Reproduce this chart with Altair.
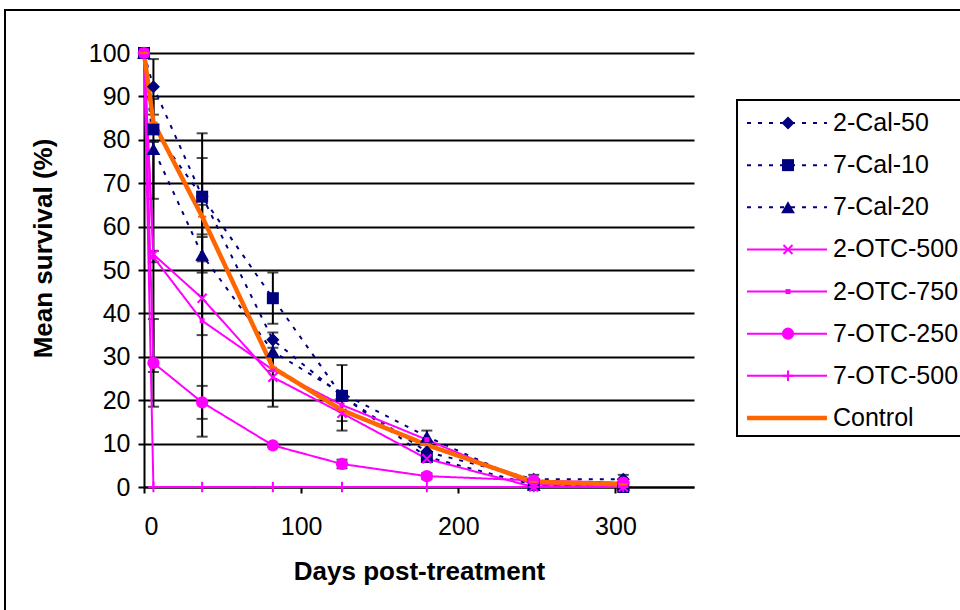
import altair as alt
import pandas as pd

# ---- data ----
days = [0, 6, 37, 82, 126, 180, 248, 305]
names = ["2-Cal-50", "7-Cal-10", "7-Cal-20", "2-OTC-500", "2-OTC-750",
         "7-OTC-250", "7-OTC-500", "Control"]
cal50_2 = [100, 92.2, 67.0, 33.9, 21.0, 8.1, 1.8, 1.8]
cal10_7 = [100, 82.4, 66.9, 43.5, 21.0, 6.9, 0.5, 0.0]
cal20_7 = [100, 77.9, 53.5, 31.2, 21.6, 11.6, 0.5, 0.5]
otc500_2 = [100, 53.6, 43.5, 25.3, 17.0, 6.5, 0.0, 0.0]
otc750_2 = [100, 53.0, 38.3, 27.0, 18.9, 10.9, 0.5, 0.5]
otc250_7 = [100, 28.6, 19.5, 9.6, 5.3, 2.5, 1.5, 1.0]
otc500_7 = [100, 0, 0, 0, 0, 0, 0, 0]
control = [100, 84.0, 62.3, 27.5, 17.7, 9.7, 1.2, 0.6]
series_values = [cal50_2, cal10_7, cal20_7, otc500_2, otc750_2, otc250_7, otc500_7, control]

# error bars (day, low, high)
err_day = [6, 6, 6, 6, 6, 37, 37, 37, 37, 37, 37, 82, 82, 82, 126, 126, 126, 180, 180, 248, 305]
err_low = [85.8, 66.4, 51.8, 26.5, 18.5, 52.3, 58.2, 49.4, 35.0, 15.7, 11.6, 37.6, 18.5, 26.8,
           15.2, 13.0, 4.3, 10.2, 1.8, 0.2, 0.2]
err_high = [98.6, 89.4, 54.4, 79.5, 38.7, 81.5, 75.8, 57.6, 52.0, 23.3, 65.0, 49.4, 32.1, 35.6,
            28.1, 21.0, 6.3, 13.0, 3.2, 2.8, 2.8]

# ---- styles ----
NAVY, MAG, ORG = "#000080", "#FF00FF", "#FF6600"
colors = [NAVY, NAVY, NAVY, MAG, MAG, MAG, MAG, ORG]
dashes = [[4, 7], [4, 7], [4, 7], [1, 0], [1, 0], [1, 0], [1, 0], [1, 0]]
widths = [2, 2, 2, 2, 2, 2, 2, 4.5]
XPATH = "M-1,-1L1,1M-1,1L1,-1"
PPATH = "M-1,0L1,0M0,-1L0,1"
DPATH = "M-1,0L1,0"
shapes = ["diamond", "square", "triangle-up", XPATH, "square", "circle", PPATH, DPATH]
sizes = [170, 144, 190, 81, 25, 150, 110, 70]
filled = [True, True, True, False, True, True, False, False]

rows = []
for n, vals, f, sz, w in zip(names, series_values, filled, sizes, widths):
    for d, v in zip(days, vals):
        rows.append({"series": n, "day": d, "value": v, "filled": f, "sz": sz, "w": w})
df = pd.DataFrame(rows)

err_df = pd.DataFrame({"day": err_day, "low": err_low, "high": err_high})
cap_df = pd.DataFrame({"day": err_day + err_day, "low": err_low + err_high})

leg_df = pd.DataFrame({"series": names, "filled": filled, "sz": sizes, "w": widths})

FONT = "Liberation Sans"
color_s = alt.Scale(domain=names, range=colors)
dash_s = alt.Scale(domain=names, range=dashes)
shape_s = alt.Scale(domain=names, range=shapes)

xs = alt.Scale(domain=[0, 350], nice=False)
ys = alt.Scale(domain=[0, 100], nice=False)
x_axis = alt.Axis(values=[0, 100, 200, 300], title="Days post-treatment",
                  labelPadding=21, titlePadding=19, grid=False)
y_axis = alt.Axis(values=list(range(0, 101, 10)), grid=True, title="Mean survival (%)",
                  labelPadding=8, titleX=-101, titleY=195, titleAngle=-90,
                  titleAlign="center", titleBaseline="middle")
X = alt.X("day:Q", scale=xs, axis=x_axis)


def Yf(field):
    return alt.Y(field + ":Q", scale=ys, axis=y_axis)


err_rules = alt.Chart(err_df).mark_rule(color="black", strokeWidth=2).encode(
    x=X, y=Yf("low"), y2="high:Q")
err_caps = alt.Chart(cap_df).mark_tick(color="black", thickness=2, size=11,
                                       orient="horizontal").encode(x=X, y=Yf("low"))

lines = alt.Chart(df).mark_line().encode(
    x=X, y=Yf("value"),
    color=alt.Color("series:N", scale=color_s, legend=None),
    strokeDash=alt.StrokeDash("series:N", scale=dash_s, legend=None),
    strokeWidth=alt.StrokeWidth("w:Q", scale=None),
    order=alt.Order("day:Q"),
)

pts_f = alt.Chart(df).mark_point(filled=True, opacity=1).encode(
    x=X, y=Yf("value"),
    color=alt.Color("series:N", scale=color_s, legend=None),
    shape=alt.Shape("series:N", scale=shape_s, legend=None),
    size=alt.Size("sz:Q", scale=None),
).transform_filter("datum.filled")

pts_s = alt.Chart(df).mark_point(filled=False, opacity=1, strokeWidth=2).encode(
    x=X, y=Yf("value"),
    color=alt.Color("series:N", scale=color_s, legend=None),
    shape=alt.Shape("series:N", scale=shape_s, legend=None),
    size=alt.Size("sz:Q", scale=None),
).transform_filter("!datum.filled")

main = alt.layer(err_rules, err_caps, lines, pts_f, pts_s)

# ---- legend & frame ----
one = pd.DataFrame({"a": [0]})
frame = alt.Chart(one).mark_rect(fill=None, stroke="black", strokeWidth=2).encode(
    x=alt.value(-139), x2=alt.value(840), y=alt.value(-43), y2=alt.value(600))
box = alt.Chart(one).mark_rect(fill="white", stroke="black", strokeWidth=2).encode(
    x=alt.value(593), x2=alt.value(840), y=alt.value(47), y2=alt.value(383))

leg_y = alt.Y("series:N", scale=alt.Scale(type="point", domain=names, range=[70, 365], padding=0),
              axis=None)
leg_lines = alt.Chart(leg_df).mark_rule().encode(
    x=alt.value(603), x2=alt.value(683), y=leg_y,
    color=alt.Color("series:N", scale=color_s, legend=None),
    strokeDash=alt.StrokeDash("series:N", scale=dash_s, legend=None),
    strokeWidth=alt.StrokeWidth("w:Q", scale=None),
)
leg_pf = alt.Chart(leg_df).mark_point(filled=True, opacity=1).encode(
    x=alt.value(644), y=leg_y,
    color=alt.Color("series:N", scale=color_s, legend=None),
    shape=alt.Shape("series:N", scale=shape_s, legend=None),
    size=alt.Size("sz:Q", scale=None),
).transform_filter("datum.filled")
leg_ps = alt.Chart(leg_df).mark_point(filled=False, opacity=1, strokeWidth=2).encode(
    x=alt.value(644), y=leg_y,
    color=alt.Color("series:N", scale=color_s, legend=None),
    shape=alt.Shape("series:N", scale=shape_s, legend=None),
    size=alt.Size("sz:Q", scale=None),
).transform_filter("!datum.filled")
leg_text = alt.Chart(leg_df).mark_text(align="left", baseline="middle", font=FONT,
                                       fontSize=25, color="black").encode(
    x=alt.value(689), y=leg_y, text="series:N")

legend = alt.layer(frame, box, leg_lines, leg_pf, leg_ps, leg_text)

chart = alt.layer(main, legend).resolve_scale(y="independent").properties(
    width=550, height=434,
    autosize=alt.AutoSizeParams(type="none"),
    padding={"left": 144, "top": 53, "right": 266, "bottom": 123},
    background="white",
).configure_view(stroke=None).configure_axis(
    labelFont=FONT, labelFontSize=25, labelColor="black",
    titleFont=FONT, titleFontSize=26, titleFontWeight="bold", titleColor="black",
    domainColor="black", domainWidth=2, tickColor="black", tickWidth=2, tickSize=6,
    gridColor="black", gridWidth=2, gridOpacity=1,
)

chart.save("out.html", embed_options={"renderer": "svg", "actions": False})
